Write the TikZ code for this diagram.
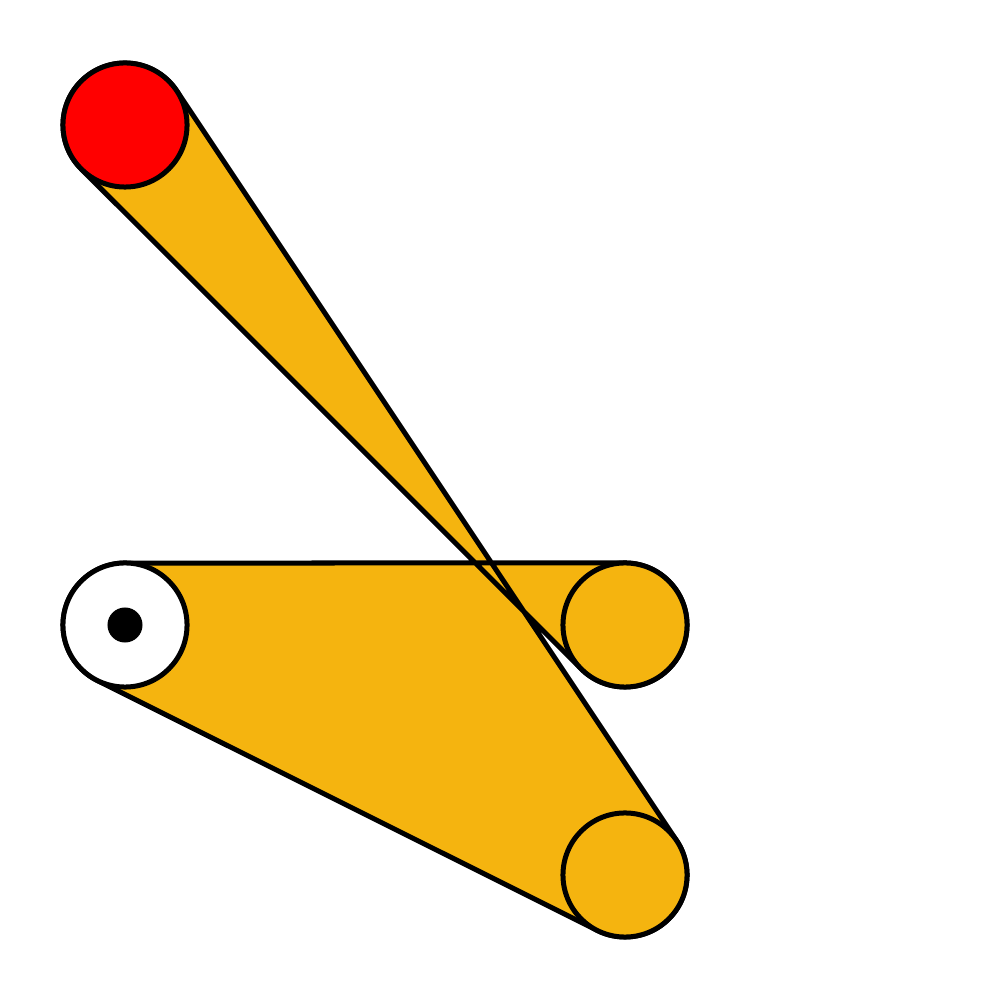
\documentclass[tikz,border=0pt]{standalone}
\usepackage{tikz}
\usetikzlibrary{calc}
\definecolor{linkorange}{RGB}{245,180,15}

\begin{document}
\begin{tikzpicture}[x=0.01cm, y=0.01cm, line width=0.05cm,
  joint/.style={circle, draw, minimum size=1.24cm, inner sep=0pt}]
\useasboundingbox (0,0) rectangle (1000,1000);
\coordinate (R) at (125,875);
\coordinate (W) at (125,375);
\coordinate (P) at (625,375);
\coordinate (Q) at (625,125);
% link body, one closed outline round the four joints
\filldraw[fill=linkorange, line join=round] ($(R)!0.62cm!90:(Q)$) -- ($(Q)!0.62cm!-90:(R)$) arc[start angle=33.69, end angle=-116.57, radius=62]
  -- ($(W)!0.62cm!-90:(Q)$) arc[start angle=-116.57, end angle=-270, radius=62]
  -- ($(P)!0.62cm!-90:(W)$) arc[start angle=90, end angle=-135, radius=62]
  -- ($(R)!0.62cm!-90:(P)$) arc[start angle=-135, end angle=-326.31, radius=62] -- cycle;
% joints
\node[joint, fill=red] (crank) at (R) {};
\node[joint, fill=white] (ground) at (W) {};
\node[circle, fill=black, minimum size=0.35cm, inner sep=0pt] (pivot) at (W) {};
\node[joint, fill=linkorange] (jointP) at (P) {};
\node[joint, fill=linkorange] (jointQ) at (Q) {};
\end{tikzpicture}
\end{document}
